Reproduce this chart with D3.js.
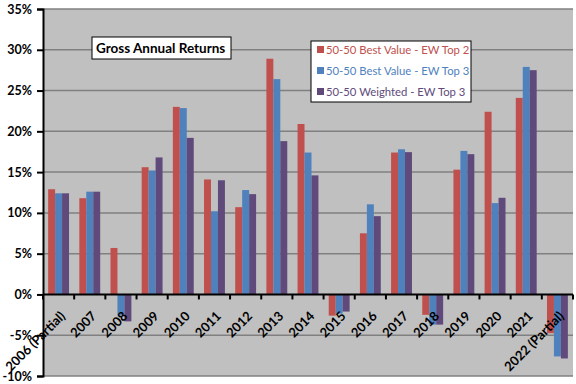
<!DOCTYPE html>
<html>
<head>
<meta charset="utf-8">
<script src="https://cdn.jsdelivr.net/npm/d3@7"></script>
<style>
  body { margin: 0; background: #ffffff; }
  svg { display: block; }
</style>
</head>
<body>
<div id="chart"></div>
<script>
// Chart data
var years = ['2006 (Partial)', '2007', '2008', '2009', '2010', '2011', '2012', '2013', '2014',
             '2015', '2016', '2017', '2018', '2019', '2020', '2021', '2022 (Partial)'];
var seriesNames = ['50-50 Best Value - EW Top 2', '50-50 Best Value - EW Top 3', '50-50 Weighted - EW Top 3'];
var bestValueTop2 = [12.9, 11.8, 5.7, 15.6, 23.0, 14.1, 10.7, 28.9, 20.9, -2.6, 7.5, 17.4, -2.5, 15.3, 22.4, 24.1, -4.75];
var bestValueTop3 = [12.4, 12.6, -2.6, 15.2, 22.85, 10.2, 12.8, 26.4, 17.4, -2.35, 11.05, 17.8, -3.7, 17.6, 11.2, 27.9, -7.6];
var weightedTop3  = [12.4, 12.6, -3.3, 16.8, 19.2, 14.0, 12.3, 18.8, 14.6, -2.1, 9.6, 17.45, -3.7, 17.2, 11.85, 27.5, -7.85];
var yTicks = [-10, -5, 0, 5, 10, 15, 20, 25, 30, 35];
var chartTitle = 'Gross Annual Returns';

var colors = ['#c0504d', '#4f81bd', '#604a7b'];
var allSeries = [bestValueTop2, bestValueTop3, weightedTop3];

var width = 576, height = 384;
var plot = {left: 43, right: 573, top: 9, bottom: 376};
var font = 'Lato, "Liberation Sans", sans-serif';

var svg = d3.select('#chart').append('svg')
  .attr('width', width)
  .attr('height', height);

// Scales
var x0 = d3.scaleBand().domain(years).range([plot.left, plot.right])
  .paddingInner(0.33).paddingOuter(0.165);
var x1 = d3.scaleBand().domain([0, 1, 2]).range([0, x0.bandwidth()]);
var y = d3.scaleLinear().domain([-10, 35]).range([plot.bottom, plot.top]);

// Plot background
svg.append('rect')
  .attr('x', plot.left).attr('y', plot.top)
  .attr('width', plot.right - plot.left).attr('height', plot.bottom - plot.top)
  .attr('fill', '#c0c0c0');

// Gridlines
svg.append('g').selectAll('line')
  .data(yTicks.filter(function(t) { return t !== 0; }))
  .enter().append('line')
    .attr('x1', plot.left).attr('x2', plot.right)
    .attr('y1', function(d) { return y(d); }).attr('y2', function(d) { return y(d); })
    .attr('stroke', '#808080').attr('stroke-width', 1.5);

// Bars
var rows = years.map(function(yr, i) {
  return {year: yr, values: allSeries.map(function(s) { return s[i]; })};
});
var group = svg.append('g').selectAll('g')
  .data(rows)
  .enter().append('g')
    .attr('transform', function(d) { return 'translate(' + x0(d.year) + ',0)'; });
group.selectAll('rect')
  .data(function(d) { return d.values; })
  .enter().append('rect')
    .attr('x', function(d, i) { return x1(i); })
    .attr('y', function(d) { return y(Math.max(0, d)); })
    .attr('width', x1.bandwidth())
    .attr('height', function(d) { return Math.abs(y(d) - y(0)); })
    .attr('fill', function(d, i) { return colors[i]; });

// Y axis
var yAxis = svg.append('g')
  .attr('transform', 'translate(' + plot.left + ',0)')
  .call(d3.axisLeft(y).tickValues(yTicks).tickSize(6).tickPadding(5)
    .tickFormat(function(d) { return d + '%'; }));
yAxis.select('.domain').attr('stroke', '#000').attr('stroke-width', 2);
yAxis.selectAll('.tick line').attr('stroke', '#000').attr('stroke-width', 2);
yAxis.selectAll('text')
  .style('font', 'bold 12.5px ' + font)
  .attr('fill', '#000');

// Zero line with category ticks
var step = x0.step();
var boundaries = d3.range(years.length + 1).map(function(i) { return plot.left + i * step; });
svg.append('line')
  .attr('x1', plot.left).attr('x2', plot.right)
  .attr('y1', y(0)).attr('y2', y(0))
  .attr('stroke', '#000').attr('stroke-width', 2);
svg.append('g').selectAll('line')
  .data(boundaries)
  .enter().append('line')
    .attr('x1', function(d) { return d; }).attr('x2', function(d) { return d; })
    .attr('y1', y(0)).attr('y2', y(0) + 5)
    .attr('stroke', '#000').attr('stroke-width', 2);

// Category labels, rotated
svg.append('g').selectAll('text')
  .data(years)
  .enter().append('text')
    .attr('transform', function(d) {
      return 'translate(' + (x0(d) + x0.bandwidth() / 2 + 1) + ',' + (y(0) + 16) + ') rotate(-45)';
    })
    .attr('text-anchor', 'end')
    .attr('dy', '0.7em')
    .style('font', 'bold 13px ' + font)
    .attr('fill', '#000')
    .text(function(d) { return d; });

// Title box
var titleG = svg.append('g');
titleG.append('rect')
  .attr('x', 92).attr('y', 37).attr('width', 139).attr('height', 22)
  .attr('fill', '#fff').attr('stroke', '#000').attr('stroke-width', 1);
titleG.append('text')
  .attr('x', 96).attr('y', 53)
  .style('font', 'bold 13.5px ' + font)
  .attr('fill', '#000')
  .text(chartTitle);

// Legend
var legend = svg.append('g');
legend.append('rect')
  .attr('x', 311).attr('y', 41).attr('width', 160).attr('height', 61)
  .attr('fill', '#fff').attr('stroke', '#000').attr('stroke-width', 1);
var item = legend.selectAll('g.item')
  .data(seriesNames)
  .enter().append('g')
    .attr('class', 'item')
    .attr('transform', function(d, i) { return 'translate(317,' + (49 + i * 21) + ')'; });
item.append('rect')
  .attr('x', 0).attr('y', -3).attr('width', 7).attr('height', 7)
  .attr('fill', function(d, i) { return colors[i]; });
item.append('text')
  .attr('x', 9).attr('y', 4.5)
  .style('font', '11.3px ' + font)
  .attr('fill', function(d, i) { return colors[i]; })
  .text(function(d) { return d; });
</script>
</body>
</html>
